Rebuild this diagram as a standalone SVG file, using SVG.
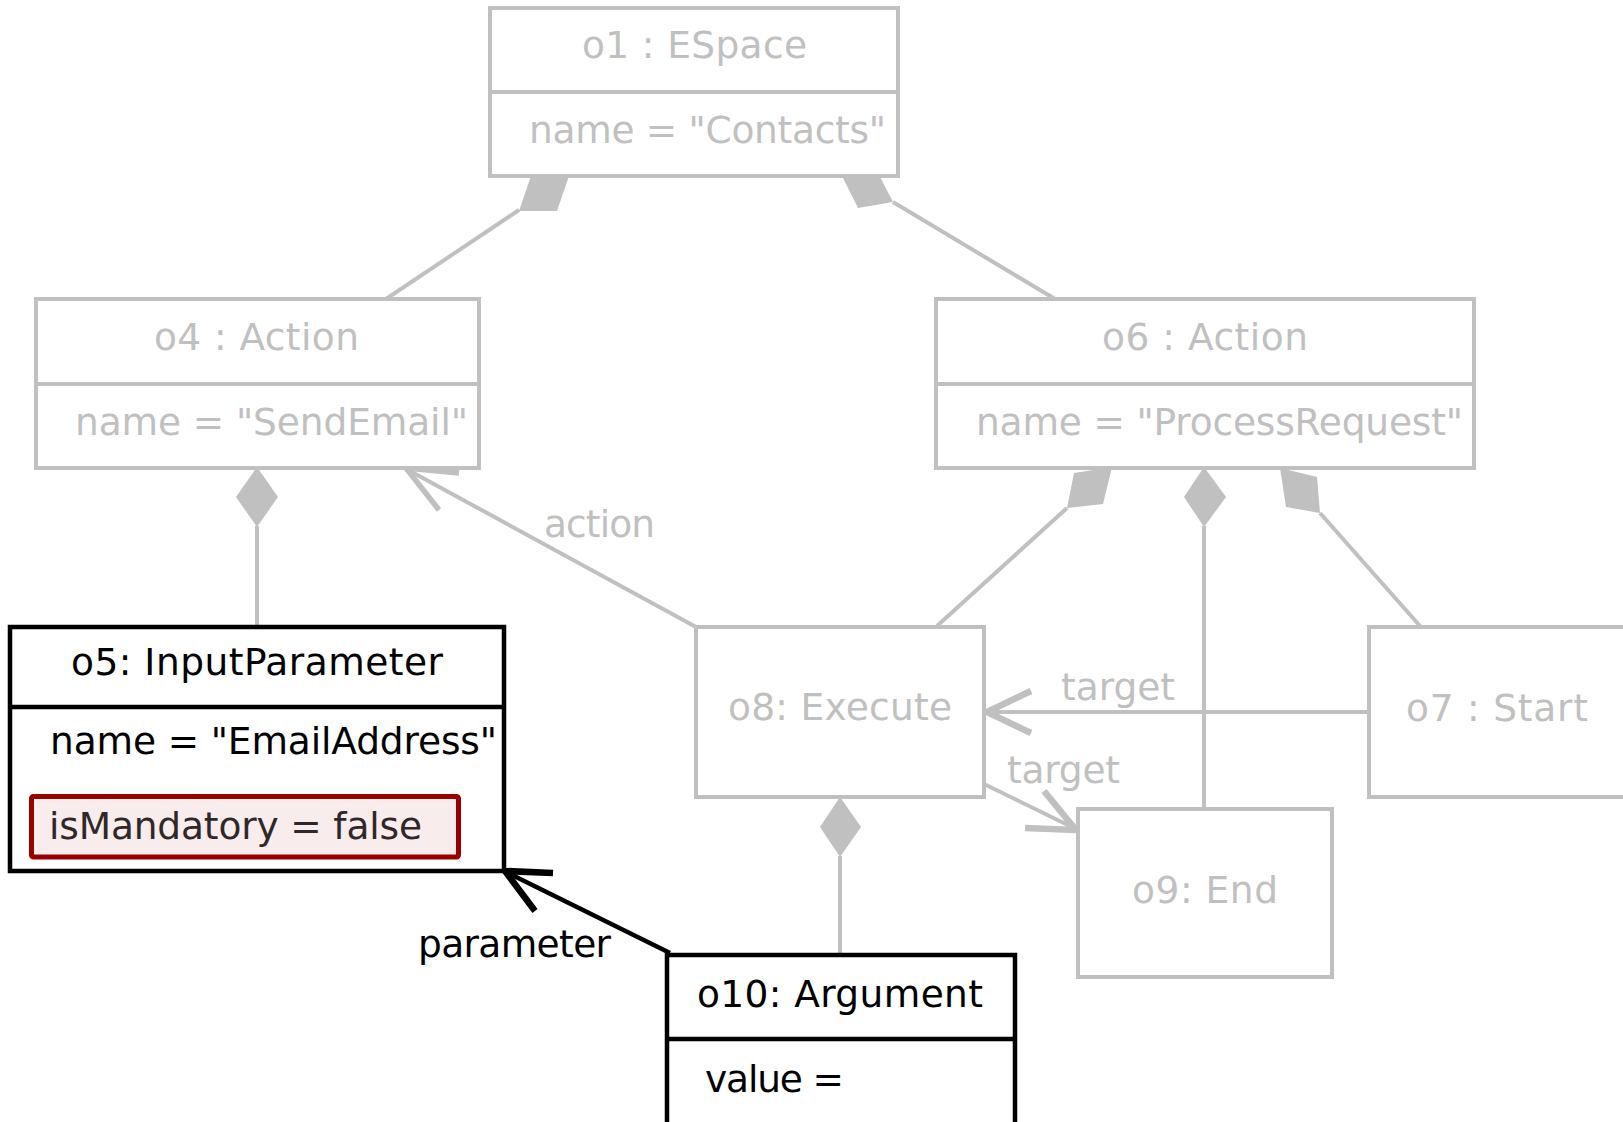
<svg xmlns="http://www.w3.org/2000/svg" width="1623" height="1122" viewBox="0 0 1623 1122">
<style>
text{font-family:"DejaVu Sans","Verdana",sans-serif;font-size:37.5px}
.g{fill:#c0c0c0}
.k{fill:#000}
.c{text-anchor:middle}
.gb{fill:#fff;stroke:#c0c0c0;stroke-width:4}
.kb{fill:#fff;stroke:#000;stroke-width:4.5}
.gl{fill:none;stroke:#c0c0c0;stroke-width:4}
.kl{fill:none;stroke:#000;stroke-width:4.5}
.gd{fill:#c0c0c0;stroke:none}
</style>
<rect width="1623" height="1122" fill="#fff"/>
<g id="connectors">
  <line class="gl" x1="519" y1="210" x2="386" y2="299"/>
  <polygon class="gd" points="531,176 569,176 557,211 519,211"/>
  <line class="gl" x1="893" y1="202" x2="1055" y2="299"/>
  <polygon class="gd" points="842,176 878,173 893,202 858,208"/>
  <line class="gl" x1="257" y1="526" x2="257" y2="626"/>
  <polygon class="gd" points="257,467 236,497 257,527 278,497"/>
  <line class="gl" x1="696" y1="627" x2="410" y2="471"/>
  <polyline class="gl" style="stroke-width:5.5" points="459,473 406,468 439,510"/>
  <line class="gl" x1="1067" y1="508" x2="937" y2="626"/>
  <polygon class="gd" points="1074,473 1112,467 1103,504 1067,508"/>
  <line class="gl" x1="1204" y1="526" x2="1204" y2="809"/>
  <polygon class="gd" points="1204,467 1184,497 1204,527 1226,497"/>
  <line class="gl" x1="1320" y1="513" x2="1420" y2="626"/>
  <polygon class="gd" points="1280,468 1317,477 1320,513 1286,507"/>
  <line class="gl" x1="1369" y1="712" x2="988" y2="712"/>
  <polyline class="gl" style="stroke-width:6.5" points="1031,691 987,712 1031,733"/>
  <line class="gl" x1="984" y1="784" x2="1074" y2="828"/>
  <polyline class="gl" style="stroke-width:6.5" points="1044,791 1076,830 1025,828"/>
  <line class="gl" x1="840" y1="856" x2="840" y2="955"/>
  <polygon class="gd" points="840,797 820,827 840,857 861,827"/>
  <line class="kl" x1="670" y1="953" x2="508" y2="873"/>
  <polyline class="kl" style="stroke-width:6.5" points="553,873 505,871 535,911"/>
  <text class="g" x="544" y="537" textLength="111" lengthAdjust="spacing">action</text>
  <text class="g" x="1061" y="700" textLength="114" lengthAdjust="spacing">target</text>
  <text class="g" x="1007" y="783" textLength="113" lengthAdjust="spacing">target</text>
  <text class="k" x="418" y="957" textLength="193" lengthAdjust="spacing">parameter</text>
</g>
<g id="o1">
  <rect class="gb" x="490" y="8" width="408" height="168"/>
  <line class="gl" x1="490" y1="92" x2="898" y2="92"/>
  <text class="g" x="582" y="58" textLength="225" lengthAdjust="spacing">o1 : ESpace</text>
  <text class="g" x="529" y="143" textLength="357" lengthAdjust="spacing">name = "Contacts"</text>
</g>
<g id="o4">
  <rect class="gb" x="36" y="299" width="443" height="169"/>
  <line class="gl" x1="36" y1="384" x2="479" y2="384"/>
  <text class="g" x="154" y="350" textLength="205" lengthAdjust="spacing">o4 : Action</text>
  <text class="g" x="75" y="435" textLength="393" lengthAdjust="spacing">name = "SendEmail"</text>
</g>
<g id="o6">
  <rect class="gb" x="936" y="299" width="538" height="169"/>
  <line class="gl" x1="936" y1="384" x2="1474" y2="384"/>
  <text class="g" x="1102" y="350" textLength="206" lengthAdjust="spacing">o6 : Action</text>
  <text class="g" x="976" y="435" textLength="487" lengthAdjust="spacing">name = "ProcessRequest"</text>
</g>
<g id="o5">
  <rect class="kb" x="10" y="627" width="494" height="244"/>
  <line class="kl" x1="10" y1="707" x2="504" y2="707"/>
  <text class="k" x="71" y="675" textLength="372" lengthAdjust="spacing">o5: InputParameter</text>
  <text class="k" x="50" y="754" textLength="447" lengthAdjust="spacing">name = "EmailAddress"</text>
  <rect x="31.5" y="796.5" width="427" height="60.5" rx="2" fill="#f9ecec" stroke="#990000" stroke-width="5"/>
  <text x="49" y="839" fill="#2e2828" textLength="373" lengthAdjust="spacing">isMandatory = false</text>
</g>
<g id="o8">
  <rect class="gb" x="696" y="627" width="288" height="170"/>
  <text class="g" x="728" y="720" textLength="224" lengthAdjust="spacing">o8: Execute</text>
</g>
<g id="o7">
  <rect class="gb" x="1369" y="627" width="258" height="170"/>
  <text class="g" x="1406" y="721" textLength="182" lengthAdjust="spacing">o7 : Start</text>
</g>
<g id="o9">
  <rect class="gb" x="1078" y="809" width="254" height="168"/>
  <text class="g" x="1132" y="903" textLength="146" lengthAdjust="spacing">o9: End</text>
</g>
<g id="o10">
  <rect class="kb" x="667" y="955" width="348" height="180"/>
  <line class="kl" x1="667" y1="1039" x2="1015" y2="1039"/>
  <text class="k" x="697" y="1007" textLength="286" lengthAdjust="spacing">o10: Argument</text>
  <text class="k" x="705" y="1092" textLength="139" lengthAdjust="spacing">value =</text>
</g>
</svg>
